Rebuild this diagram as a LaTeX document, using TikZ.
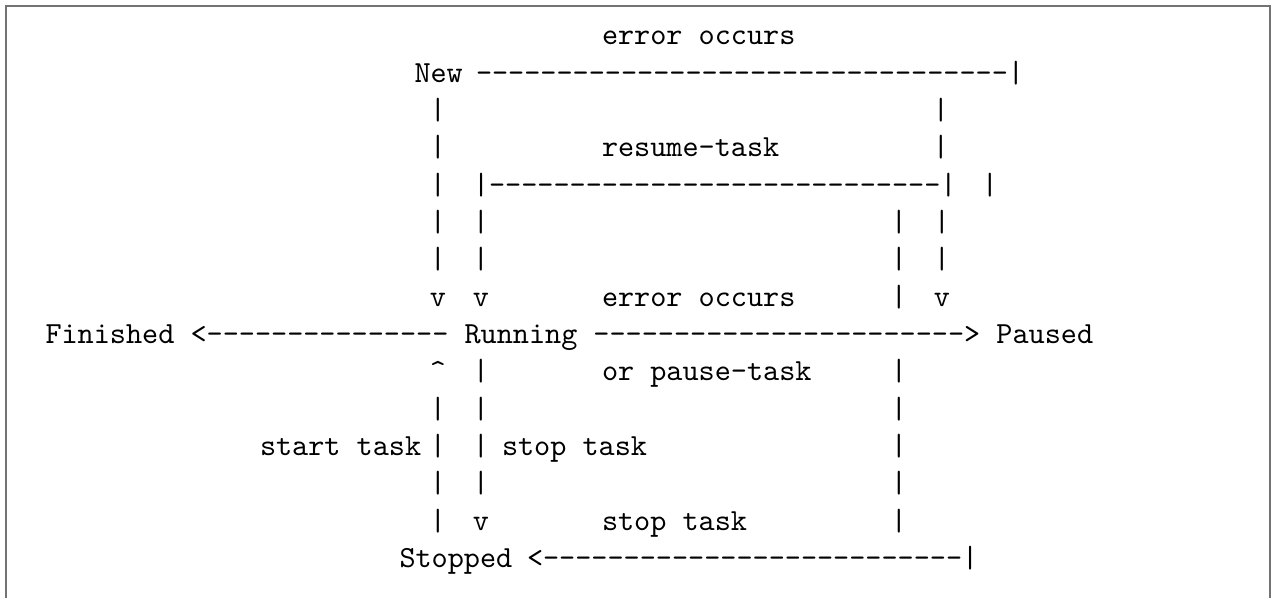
\documentclass[tikz,border=0pt]{standalone}
\usepackage{fontspec}
\newfontfamily\monoten{lmmono10-regular.otf}[Ligatures=TeXOff]
\tikzset{
  tt/.style={inner sep=0pt, outer sep=0pt, font=\monoten\fontsize{30.7pt}{37pt}\selectfont, text=black},
  lbl/.style={tt, anchor=base west},
  ch/.style={tt, anchor=base},
  frame/.style={draw=black!55, line width=1.2pt},
}
\begin{document}
\begin{tikzpicture}[x=1pt,y=-1pt]
\useasboundingbox (0,0) rectangle (1273,598);
\draw[frame] (6,598) -- (6,6) -- (1270,6) -- (1270,598);
% row 1
\node[lbl] (err1) at (602,44) {error occurs};
% row 2
\node[lbl] (new) at (414.5,82) {New};
\node[lbl] (newline) at (476,82) {---------------------------------|};
% row 3
\node[ch] (a3) at (438,119) {|};
\node[ch] (e3) at (941,119) {|};
% row 4
\node[ch] (a4) at (438,156) {|};
\node[lbl] (resume) at (602,156) {resume-task};
\node[ch] (e4) at (941,156) {|};
% row 5
\node[ch] (a5) at (438,194) {|};
\node[lbl] (resline) at (473,194) {|----------------------------|};
\node[ch] (f5) at (990,194) {|};
% rows 6-7
\node[ch] (a6) at (438,231) {|};
\node[ch] (b6) at (481,231) {|};
\node[ch] (d6) at (899,231) {|};
\node[ch] (e6) at (942,231) {|};
\node[ch] (a7) at (438,268) {|};
\node[ch] (b7) at (481,268) {|};
\node[ch] (d7) at (899,268) {|};
\node[ch] (e7) at (942,268) {|};
% row 8
\node[ch] (a8) at (438,306) {v};
\node[ch] (b8) at (481,306) {v};
\node[lbl] (err2) at (602,306) {error occurs};
\node[ch] (d8) at (899,306) {|};
\node[ch] (e8) at (942,306) {v};
% row 9
\node[lbl] (mainline) at (45.5,343) {Finished <--------------- Running -----------------------> Paused};
% row 10
\node[ch] (a10) at (438,380) {\textasciicircum};
\node[ch] (b10) at (481,380) {|};
\node[lbl] (pause) at (602,380) {or pause-task};
\node[ch] (d10) at (899,380) {|};
% row 11
\node[ch] (a11) at (438,418) {|};
\node[ch] (b11) at (481,418) {|};
\node[ch] (d11) at (899,418) {|};
% row 12
\node[lbl] (start) at (260,455) {start task};
\node[ch] (a12) at (438,455) {|};
\node[ch] (b12) at (481,455) {|};
\node[lbl] (stop1) at (502,455) {stop task};
\node[ch] (d12) at (899,455) {|};
% row 13
\node[ch] (a13) at (438,492) {|};
\node[ch] (b13) at (481,492) {|};
\node[ch] (d13) at (899,492) {|};
% row 14
\node[ch] (a14) at (438,530) {|};
\node[ch] (b14) at (481,530) {v};
\node[lbl] (stop2) at (602,530) {stop task};
\node[ch] (d14) at (899,530) {|};
% row 15
\node[lbl] (stopped) at (399.5,567) {Stopped};
\node[lbl] (stopline) at (527,567) {<--------------------------|};
\end{tikzpicture}
\end{document}
